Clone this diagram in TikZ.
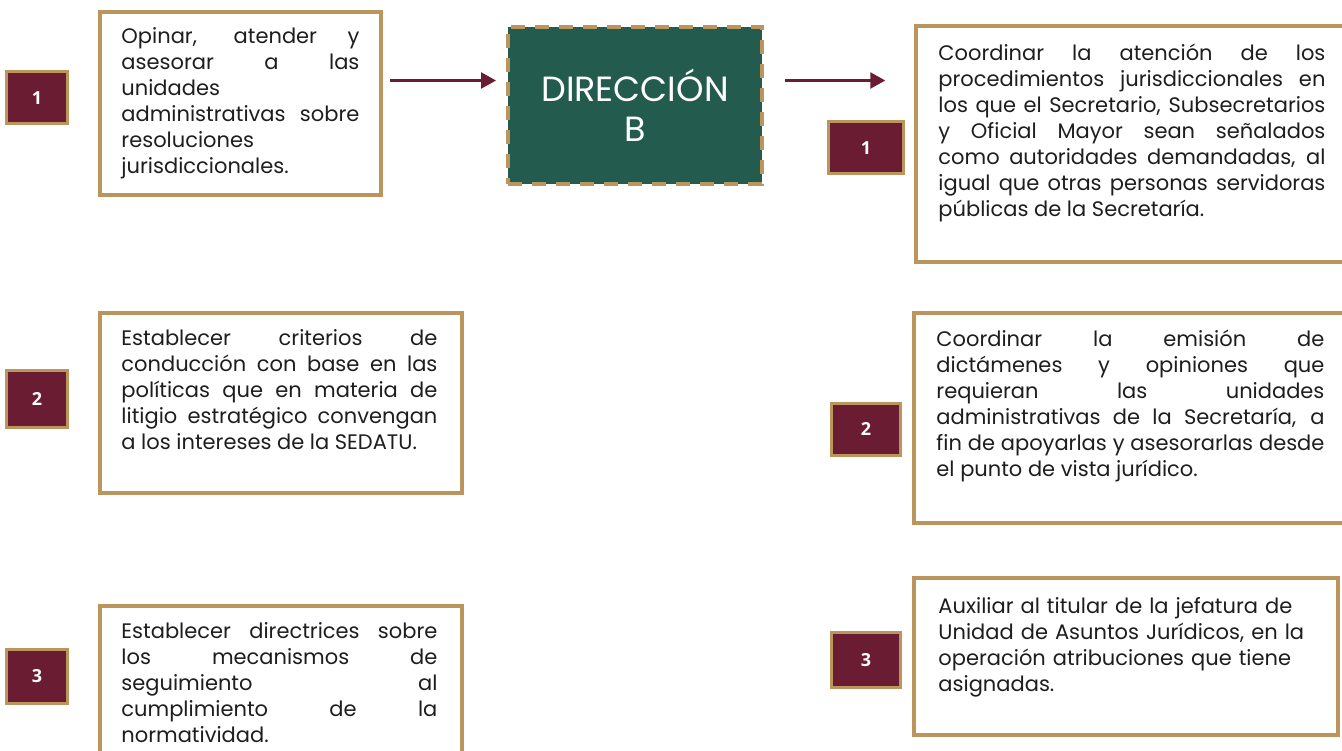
\documentclass[tikz,border=0pt]{standalone}
\usepackage{fontspec}
\setmainfont{Poppins}
\newfontfamily\numfont{Open Sans}
\usetikzlibrary{arrows.meta}

\definecolor{guinda}{HTML}{691C32}
\definecolor{dorado}{HTML}{BC955C}
\definecolor{verde}{HTML}{235B4E}
\definecolor{tinta}{HTML}{1E1E1E}

\tikzset{
  every frame/.style={draw=dorado, line width=3.5pt, inner sep=0pt},
  every number/.style={draw=dorado, line width=3pt, fill=guinda, text=white,
    inner sep=0pt, font=\numfont\bfseries\fontsize{18}{20}\selectfont},
  box text/.style={inner sep=0pt, anchor=north west, text=tinta, align=justify,
    font=\fontsize{21}{26}\selectfont},
  direccion/.style={fill=verde, draw=dorado, line width=4pt,
    dash pattern=on 14pt off 10pt, minimum width=254pt, minimum height=157pt,
    text=white, align=center, font=\fontsize{35}{40}\selectfont},
  flecha/.style={-{Triangle[length=15pt,width=16pt]}, draw=guinda, line width=2.5pt}
}

\begin{document}
\begin{tikzpicture}[x=1pt, y=-1pt]

    \useasboundingbox (0,0) rectangle (1342,751);
    \fill [white] (0,0) rectangle (1342,751);
    \clip (0,0) rectangle (1342,751);

    % number boxes
    \foreach \n/\y/\h in {1/98/52, 2/399/56, 3/676/54}
      \node [every number, minimum width=61pt, minimum height=\h pt] (lnum-\n) at (37,\y) {\n};

    \foreach \n/\y/\w/\h in {1/148/75/52, 2/429/69/52, 3/660/69/55}
      \node [every number, minimum width=\w pt, minimum height=\h pt] (rnum-\n) at (866,\y) {\n};

    % frames
    \node [every frame, minimum width=281pt, minimum height=183pt] (lbox-1) at (240.5,103.5) {};
    \node [every frame, minimum width=362pt, minimum height=180pt] (lbox-2) at (281,403) {};
    \node [every frame, minimum width=362pt, minimum height=180pt] (lbox-3) at (281,696) {};
    \node [every frame, minimum width=440pt, minimum height=236pt] (rbox-1) at (1136,144) {};
    \node [every frame, minimum width=440pt, minimum height=210pt] (rbox-2) at (1134,418) {};
    \node [every frame, minimum width=424pt, minimum height=157pt] (rbox-3) at (1126,656.5) {};

    % texts
    \node [box text, text width=238pt] (ltext-1) at ([xshift=23pt, yshift=-17pt]lbox-1.north west)
      {Opinar, atender y\linebreak asesorar a las\linebreak unidades\\
       administrativas sobre\linebreak resoluciones\\ jurisdiccionales.};
    \node [box text, text width=316pt] (ltext-2) at ([xshift=23pt, yshift=-18pt]lbox-2.north west)
      {Establecer criterios de\linebreak conducción con base en las\linebreak
       políticas que en materia de\linebreak litigio estratégico convengan\linebreak
       a los intereses de la SEDATU.};
    \node [box text, text width=316pt] (ltext-3) at ([xshift=23pt, yshift=-18pt]lbox-3.north west)
      {Establecer directrices sobre\linebreak los mecanismos de\linebreak
       seguimiento al\linebreak cumplimiento de la\linebreak normatividad.};
    \node [box text, text width=387pt] (rtext-1) at ([xshift=24pt, yshift=-19pt]rbox-1.north west)
      {Coordinar la atención de los\linebreak procedimientos jurisdiccionales en\linebreak
       los que el Secretario, Subsecretarios\linebreak y Oficial Mayor sean señalados\linebreak
       como autoridades demandadas, al\linebreak igual que otras personas servidoras\linebreak
       públicas de la Secretaría.};
    \node [box text, text width=388pt] (rtext-2) at ([xshift=24pt, yshift=-18pt]rbox-2.north west)
      {Coordinar la emisión de\linebreak dictámenes y opiniones que\linebreak
       requieran las unidades\linebreak administrativas de la Secretaría, a\linebreak
       fin de apoyarlas y asesorarlas desde\linebreak el punto de vista jurídico.};
    \node [box text, text width=388pt, align=left] (rtext-3) at ([xshift=26pt, yshift=-21pt]rbox-3.north west)
      {Auxiliar al titular de la jefatura de\\ Unidad de Asuntos Jurídicos, en la\\
       operación atribuciones que tiene\\ asignadas.};

    % central box
    \node [direccion] (dirb) at (635,105.5) {DIRECCIÓN\\B};

    \draw [flecha, shorten <=7pt, shorten >=10pt] ([yshift=25pt]dirb.west -| lbox-1.east) -- ([yshift=25pt]dirb.west);
    \draw [flecha, shorten <=21pt, shorten >=29pt] ([yshift=25pt]dirb.east) -- ([yshift=25pt]dirb.east -| rbox-1.west);

\end{tikzpicture}
\end{document}
